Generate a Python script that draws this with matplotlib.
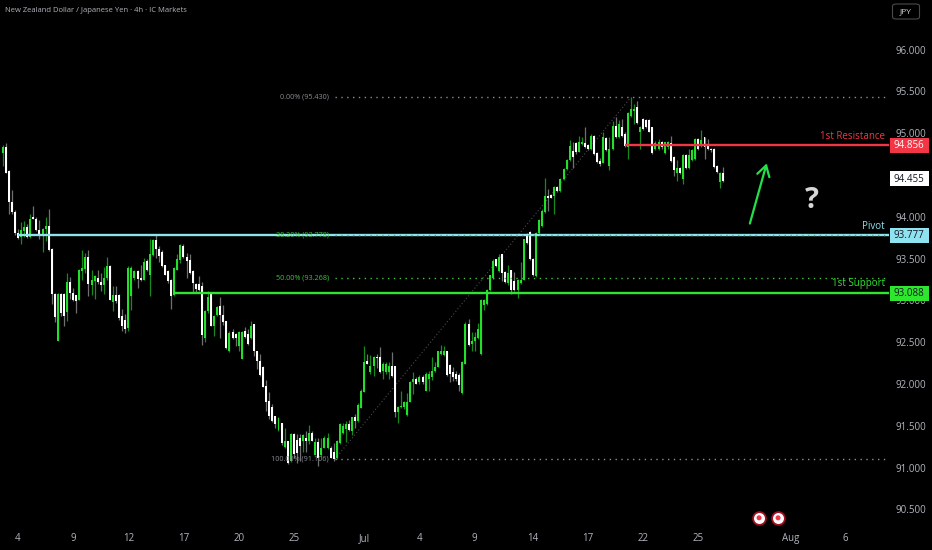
import numpy as np
import matplotlib.pyplot as plt
from matplotlib.patches import Rectangle, FancyBboxPatch
from matplotlib.transforms import blended_transform_factory

plt.rcParams['font.family'] = ['Open Sans', 'DejaVu Sans']

opens = [94.76,94.83,94.55,94.18,94.06,93.81,93.76,93.83,93.88,93.76,94.00,93.98,93.84,93.79,93.85,93.89,93.62,93.08,92.51,93.08,93.08,92.86,93.22,93.09,93.06,93.01,93.35,93.38,93.52,93.19,93.23,93.27,93.22,93.19,93.27,93.41,92.98,93.07,93.07,92.81,92.77,92.67,93.05,93.27,93.35,93.27,93.25,93.47,93.30,93.54,93.72,93.62,93.58,93.42,93.35,93.25,93.06,93.37,93.48,93.65,93.52,93.48,93.35,93.20,93.20,93.17,92.55,92.87,93.09,92.70,92.83,92.93,
         92.83,92.75,92.39,92.62,92.60,92.46,92.30,92.64,92.60,92.55,92.72,92.39,92.27,92.20,91.98,91.80,91.73,91.62,91.45,91.54,91.25,91.32,91.08,91.40,91.33,91.36,91.32,91.36,91.32,91.42,91.15,91.31,91.15,91.23,91.23,91.24,91.19,91.11,91.30,91.42,91.46,91.52,91.44,91.60,91.56,91.71,91.91,92.27,92.14,92.22,92.32,92.32,92.16,92.14,92.14,92.22,92.22,91.66,91.72,91.72,91.63,91.79,92.02,92.06,92.02,92.09,91.92,92.06,92.09,92.16,92.20,92.36,92.35,92.39,92.23,92.15,92.12,92.11,91.89,92.24,92.72,92.48,92.52,92.55,
         92.36,92.94,92.96,93.12,93.27,93.49,93.35,93.55,93.34,93.21,93.36,93.23,93.13,93.21,93.25,93.79,93.82,93.50,93.29,93.81,93.89,94.06,94.25,94.26,94.25,94.36,94.31,94.45,94.57,94.68,94.79,94.88,94.78,94.87,94.88,94.86,94.81,94.97,94.76,94.67,94.65,94.94,94.61,94.81,95.09,94.95,95.07,94.99,94.83,95.21,95.27,95.32,95.01,95.17,95.16,95.16,95.07,94.81,94.81,94.89,94.76,94.83,94.88,94.72,94.53,94.58,94.45,94.74,94.58,94.68,94.69,94.93,94.85,94.95,94.85,94.81,94.81,94.61,94.42,94.53]
closes = [94.83,94.53,94.18,94.06,93.81,93.75,93.84,93.88,93.76,93.98,93.98,93.84,93.79,93.86,93.89,93.60,93.08,92.80,93.08,92.85,92.81,93.22,93.09,93.01,92.99,93.37,93.39,93.52,93.20,93.25,93.29,93.22,93.18,93.27,93.41,93.01,93.07,92.99,92.79,92.69,92.66,93.39,93.39,93.35,93.26,93.24,93.46,93.36,93.55,93.72,93.62,93.53,93.41,93.31,93.23,93.05,93.39,93.49,93.66,93.52,93.47,93.33,93.21,93.14,93.13,92.59,92.87,93.04,92.70,92.82,92.92,92.83,
          92.74,92.43,92.61,92.55,92.55,92.62,92.62,92.56,92.48,92.70,92.40,92.27,92.11,91.96,91.79,91.62,91.56,91.52,91.59,91.30,91.32,91.06,91.40,91.16,91.18,91.26,91.39,91.32,91.42,91.32,91.31,91.12,91.24,91.35,91.36,91.11,91.10,91.32,91.52,91.50,91.52,91.45,91.60,91.56,91.75,91.92,92.26,92.24,92.22,92.32,92.31,92.14,92.24,92.24,92.22,92.10,91.66,91.72,91.74,91.78,91.78,92.03,92.06,92.00,92.08,92.02,92.12,92.12,92.16,92.20,92.39,92.40,92.40,92.11,92.12,92.08,92.06,91.99,92.26,92.72,92.47,92.52,92.56,92.66,
          93.01,93.00,93.12,93.30,93.47,93.41,93.52,93.33,93.22,93.33,93.13,93.13,93.24,93.25,93.73,93.69,93.49,93.31,93.81,93.96,94.07,94.25,94.22,94.23,94.36,94.31,94.45,94.57,94.68,94.85,94.72,94.77,94.89,94.89,94.83,94.81,94.97,94.75,94.66,94.63,94.95,94.80,94.81,95.09,94.95,95.11,94.97,94.85,95.24,95.29,95.29,95.12,95.08,95.05,95.07,95.02,94.76,94.88,94.89,94.84,94.89,94.90,94.67,94.56,94.58,94.52,94.74,94.58,94.74,94.80,94.93,94.81,94.92,94.84,94.81,94.80,94.60,94.54,94.53,94.43]
highs = [94.86,94.88,94.56,94.32,94.08,93.86,93.94,93.95,93.92,94.03,94.13,94.00,93.96,93.87,94.00,94.09,93.63,93.09,93.09,93.09,93.09,93.33,93.28,93.15,93.07,93.38,93.60,93.57,93.60,93.36,93.30,93.37,93.33,93.40,93.52,93.42,93.17,93.17,93.08,92.90,92.84,93.41,93.41,93.37,93.36,93.43,93.51,93.49,93.74,93.73,93.80,93.65,93.60,93.43,93.36,93.26,93.40,93.55,93.68,93.68,93.57,93.55,93.36,93.21,93.29,93.22,92.88,93.11,93.10,92.83,92.93,93.04,
         92.95,92.76,92.63,92.66,92.61,92.64,92.64,92.68,92.66,92.76,92.72,92.40,92.36,92.22,92.05,91.90,91.76,91.62,91.60,91.54,91.47,91.32,91.41,91.41,91.40,91.40,91.40,91.44,91.51,91.44,91.36,91.35,91.36,91.38,91.41,91.26,91.30,91.33,91.53,91.53,91.56,91.57,91.61,91.64,91.77,91.94,92.46,92.36,92.35,92.34,92.36,92.44,92.26,92.26,92.26,92.38,92.22,91.74,91.92,91.80,91.89,92.04,92.15,92.08,92.11,92.11,92.14,92.16,92.32,92.26,92.40,92.47,92.46,92.40,92.24,92.20,92.16,92.13,92.27,92.74,92.78,92.62,92.62,92.73,
         93.02,93.02,93.14,93.31,93.49,93.50,93.55,93.56,93.35,93.43,93.37,93.34,93.26,93.46,93.74,93.81,93.83,93.51,93.82,93.97,94.09,94.46,94.33,94.27,94.37,94.37,94.47,94.58,94.69,94.92,94.89,94.89,94.97,94.95,95.08,94.87,94.99,94.98,94.77,94.71,95.02,94.96,94.95,95.15,95.20,95.16,95.17,95.01,95.25,95.43,95.35,95.38,95.09,95.18,95.17,95.17,95.08,94.91,94.93,94.91,94.90,94.91,94.97,94.73,94.68,94.60,94.75,94.75,94.81,94.81,94.94,94.94,95.04,94.96,94.93,94.82,94.82,94.62,94.54,94.60]
lows = [94.61,94.52,94.03,94.04,93.78,93.74,93.68,93.76,93.75,93.75,93.97,93.83,93.74,93.58,93.71,93.59,92.96,92.74,92.51,92.81,92.70,92.76,93.02,92.99,92.85,93.00,93.25,93.33,93.05,93.07,93.02,93.20,93.11,93.08,93.25,93.00,92.87,92.97,92.77,92.64,92.61,92.64,92.89,93.25,93.15,93.23,93.24,93.35,93.05,93.53,93.51,93.46,93.40,93.30,93.21,92.90,93.05,93.36,93.45,93.51,93.27,93.32,93.09,93.09,93.11,92.47,92.50,92.85,92.69,92.58,92.81,92.55,
        92.71,92.42,92.38,92.54,92.46,92.39,92.30,92.55,92.47,92.54,92.34,92.18,92.10,91.96,91.68,91.58,91.55,91.48,91.44,91.27,91.24,91.04,91.07,91.12,91.06,91.08,91.19,91.19,91.28,91.32,91.15,91.02,91.13,91.23,91.22,91.11,91.08,91.10,91.28,91.40,91.31,91.44,91.39,91.48,91.55,91.71,91.90,92.24,92.12,92.10,92.19,92.13,92.06,92.12,92.06,92.09,91.60,91.54,91.71,91.70,91.62,91.78,91.88,92.00,92.00,92.00,91.92,91.92,92.05,92.15,92.20,92.35,92.34,92.10,92.02,92.04,92.04,91.92,91.88,92.24,92.46,92.39,92.40,92.54,
        92.35,92.88,92.94,93.11,93.26,93.40,93.34,93.23,93.21,93.19,93.08,93.11,93.03,93.20,93.24,93.68,93.48,93.29,93.28,93.80,93.88,94.05,94.07,94.22,94.04,94.30,94.30,94.44,94.56,94.67,94.58,94.75,94.77,94.86,94.82,94.80,94.80,94.74,94.65,94.61,94.64,94.79,94.56,94.80,94.94,94.94,94.96,94.84,94.69,95.20,95.11,95.11,94.81,95.04,95.06,95.01,94.75,94.80,94.80,94.81,94.75,94.81,94.66,94.49,94.43,94.51,94.39,94.57,94.57,94.67,94.68,94.80,94.84,94.69,94.80,94.77,94.59,94.52,94.34,94.42]

price_ticks = [90.5, 91.0, 91.5, 92.0, 92.5, 93.0, 93.5, 94.0, 94.5, 95.0, 95.5, 96.0]
date_pos = [5, 23, 41, 59, 77, 95, 118, 136, 154, 173, 191, 209, 227, 257, 275]
date_labels = ['4', '9', '12', '17', '20', '25', 'Jul', '4', '9', '14', '17', '22', '25', 'Aug', '6']

level_names = ['1st Resistance', 'Pivot', '1st Support']
level_prices = [94.856, 93.777, 93.088]
level_starts = [203, 5, 55.5]
level_colors = ['#f23645', '#8fe3f0', '#2ee62e']

fib_labels = ['0.00% (95.430)', '38.20% (93.778)', '50.00% (93.268)', '100.00% (91.106)']
fib_prices = [95.430, 93.778, 93.268, 91.106]
fib_colors = ['#8a8d96', '#3ec43e', '#3ec43e', '#8a8d96']
fib_start = 108.5
fib_end = 288.5
fib_swing_end = 205

last_price = 94.455
event_pos = [246.8, 253]
event_level = 90.40

BG = '#000000'
TICK = '#b2b5be'

fig = plt.figure(figsize=(9.32, 5.5), dpi=100, facecolor=BG)
ax = fig.add_axes([0, 25 / 550, 889 / 932, 525 / 550], facecolor=BG)
ax.set_xlim(-0.87, 289.2)
ax.set_ylim(90.314, 96.594)
for s in ax.spines.values():
    s.set_visible(False)

x = np.arange(len(closes))
o = np.array(opens)
c = np.array(closes)
up = c >= o

# wicks first, bodies on top
ax.vlines(x[up], np.array(lows)[up], np.array(highs)[up], color='#168a1c', linewidth=0.9, zorder=2)
ax.vlines(x[~up], np.array(lows)[~up], np.array(highs)[~up], color='#707070', linewidth=0.9, zorder=2)
ax.bar(x[up], (c - o)[up], bottom=o[up], width=0.65, color='#22e02a', linewidth=0, zorder=3)
ax.bar(x[~up], (c - o)[~up], bottom=o[~up], width=0.65, color='#ffffff', linewidth=0, zorder=3)

# fib retracement
ax.plot([fib_start, fib_swing_end], [fib_prices[3], fib_prices[0]], color='#4a4a4a', linewidth=0.8,
        linestyle=(0, (1, 2)), zorder=1)
for name, price, col in zip(fib_labels, fib_prices, fib_colors):
    ax.text(fib_start - 2, price, name, color=col, fontsize=5.2, ha='right', va='center', zorder=6)

# levels
for name, price, start, col in zip(level_names, level_prices, level_starts, level_colors):
    ax.hlines(price, start, 289.2, color=col, linewidth=1.7, zorder=4)
    ax.text(287.8, price + 0.045, name, color=col, fontsize=7, ha='right', va='bottom', zorder=6)

for price, col in zip(fib_prices, fib_colors):
    ax.plot([fib_start, fib_end], [price, price], color=col, linewidth=1,
            linestyle=(0, (1, 3.2)), zorder=5)

# price scale
ax.yaxis.tick_right()
ax.set_yticks(price_ticks)
ax.set_yticklabels(['%.3f' % p for p in price_ticks])
ax.set_xticks(date_pos)
ax.set_xticklabels(date_labels)
ax.tick_params(axis='y', length=0, pad=5, labelsize=7, labelcolor=TICK)
ax.tick_params(axis='x', length=0, pad=6, labelsize=7, labelcolor=TICK)

tr = blended_transform_factory(ax.transAxes, ax.transData)
tag_prices = level_prices + [last_price]
tag_colors = level_colors + ['#ffffff']
tag_text = ['#ffffff' if i == 0 else '#131722' for i in range(4)]
for price, col, tcol in zip(tag_prices, tag_colors, tag_text):
    ax.add_patch(Rectangle((1.0011, price - 0.09), 39 / 889, 0.18, transform=tr, facecolor=col,
                           edgecolor='none', clip_on=False, zorder=8))
    ax.text(1 + 19.5 / 889, price - 0.005, '%.3f' % price, transform=tr, color=tcol, fontsize=7,
            ha='center', va='center', clip_on=False, zorder=9)

# drawn annotations
ax.annotate('', xy=(249.3, 94.64), xytext=(243.8, 93.92),
            arrowprops=dict(arrowstyle='->,head_length=0.75,head_width=0.45', color='#22e04a',
                            linewidth=1.6, shrinkA=0, shrinkB=0), zorder=7)
ax.text(264, 94.19, '?', color='#d6d6d6', fontsize=21, fontweight='bold', ha='center', va='center', zorder=7)

ax.scatter(event_pos, [event_level] * 2, s=85, facecolor='#ffffff', edgecolor='#a01020', linewidth=1.3,
           zorder=7, clip_on=False)
ax.scatter(event_pos, [event_level] * 2, s=13, facecolor='#f23645', edgecolor='none', zorder=8, clip_on=False)

fig.text(5 / 932, 1 - 10.5 / 550, 'New Zealand Dollar / Japanese Yen · 4h · IC Markets', color='#b2b5be',
         fontsize=5.5, ha='left', va='center')

fig.add_artist(FancyBboxPatch((892.5 / 932, 1 - 19 / 550), 27 / 932, 15 / 550, boxstyle='round,pad=0,rounding_size=0.004',
                              transform=fig.transFigure, facecolor=BG, edgecolor='#4a4a4a', linewidth=0.8))
fig.text(905.5 / 932, 1 - 11.5 / 550, 'JPY', color='#d1d4dc', fontsize=6, ha='center', va='center')

fig.savefig('out.png', dpi=100, facecolor=BG)
